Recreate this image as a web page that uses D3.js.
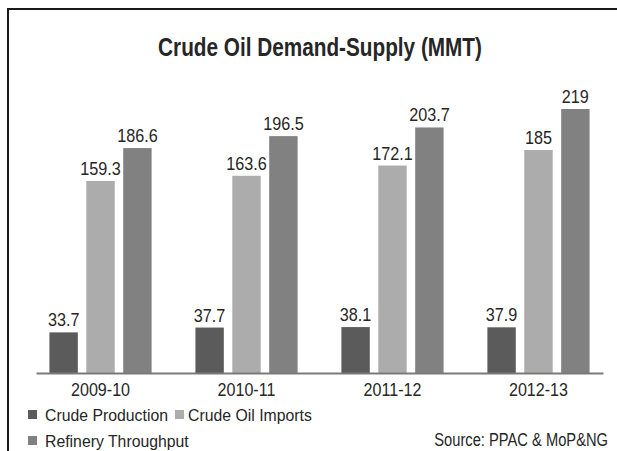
<!DOCTYPE html>
<html>
<head>
<meta charset="utf-8">
<script src="https://cdn.jsdelivr.net/npm/d3@7"></script>
<style>
  body { margin: 0; background: #fff; }
  svg text { font-family: "Liberation Sans", Arial, sans-serif; fill: #262626; }
</style>
</head>
<body>
<div id="chart"></div>
<script>
const years = ["2009-10", "2010-11", "2011-12", "2012-13"];
const seriesNames = ["Crude Production", "Crude Oil Imports", "Refinery Throughput"];
const crudeProduction = [33.7, 37.7, 38.1, 37.9];
const crudeImports = [159.3, 163.6, 172.1, 185];
const refineryThroughput = [186.6, 196.5, 203.7, 219];
const colors = ["#5b5b5b", "#acacac", "#818181"];

document.addEventListener("DOMContentLoaded", function () {
    const width = 617, height = 451;

    const rows = years.map((y, i) => ({
        year: y,
        values: [crudeProduction[i], crudeImports[i], refineryThroughput[i]]
    }));

    const svg = d3.select("#chart")
        .append("svg")
        .attr("width", width)
        .attr("height", height);

    // the original font is a condensed grotesque, squeeze Liberation Sans to get close
    const squeeze = (x, y, s) => `translate(${x},${y}) scale(${s},1)`;

    // frame (only top and left edges visible in the original crop)
    svg.append("rect")
        .attr("x", 8)
        .attr("y", 9)
        .attr("width", 640)
        .attr("height", 480)
        .attr("fill", "none")
        .attr("stroke", "#1a1a1a")
        .attr("stroke-width", 2);

    svg.append("text")
        .attr("transform", squeeze(320, 56, 0.83))
        .attr("text-anchor", "middle")
        .attr("font-size", "25px")
        .attr("font-weight", "bold")
        .text("Crude Oil Demand-Supply (MMT)");

    const x0 = d3.scaleBand()
        .domain(years)
        .range([36, 603])
        .paddingInner(0.3)
        .paddingOuter(0.092);

    const x1 = d3.scaleBand()
        .domain(d3.range(seriesNames.length))
        .range([0, x0.bandwidth()])
        .paddingInner(0.23);

    const y = d3.scaleLinear()
        .domain([0, 219])
        .range([373, 109]);

    const groups = svg.selectAll(".grp")
        .data(rows)
        .enter()
        .append("g")
        .attr("class", "grp")
        .attr("transform", d => `translate(${x0(d.year)},0)`);

    groups.selectAll("rect")
        .data(d => d.values)
        .enter()
        .append("rect")
        .attr("x", (d, i) => x1(i))
        .attr("y", d => y(d))
        .attr("width", x1.bandwidth())
        .attr("height", d => y(0) - y(d))
        .attr("fill", (d, i) => colors[i]);

    groups.selectAll(".val")
        .data(d => d.values)
        .enter()
        .append("text")
        .attr("class", "val")
        .attr("transform", (d, i) => squeeze(x1(i) + x1.bandwidth() / 2, y(d) - 6, 0.875))
        .attr("text-anchor", "middle")
        .attr("font-size", "18.5px")
        .text(d => d);

    // x axis
    const xAxis = svg.append("g")
        .attr("transform", `translate(0,${y(0)})`)
        .call(d3.axisBottom(x0).tickSize(0).tickPadding(0));
    xAxis.select(".domain")
        .attr("stroke", "#7a7a7a")
        .attr("stroke-width", 2);
    xAxis.selectAll(".tick text")
        .attr("font-family", null)
        .attr("y", null)
        .attr("dy", null)
        .attr("transform", "translate(0,23) scale(0.92,1)")
        .style("font-size", "17.5px")
        .style("fill", "#262626");

    // legend
    const legendItems = [
        { name: seriesNames[0], color: colors[0], x: 28, y: 410 },
        { name: seriesNames[1], color: colors[1], x: 175, y: 410 },
        { name: seriesNames[2], color: colors[2], x: 28, y: 436 }
    ];
    const legend = svg.selectAll(".leg")
        .data(legendItems)
        .enter()
        .append("g")
        .attr("class", "leg")
        .attr("transform", d => `translate(${d.x},${d.y})`);
    legend.append("rect")
        .attr("x", 0)
        .attr("y", 0)
        .attr("width", 9)
        .attr("height", 9)
        .attr("fill", d => d.color);
    legend.append("text")
        .attr("transform", d => squeeze(d.x === 28 ? 17 : 13, 11, 0.93))
        .attr("font-size", "17px")
        .text(d => d.name);

    svg.append("text")
        .attr("transform", squeeze(608, 446, 0.84))
        .attr("text-anchor", "end")
        .attr("font-size", "17.5px")
        .text("Source: PPAC & MoP&NG");
});
</script>
</body>
</html>
